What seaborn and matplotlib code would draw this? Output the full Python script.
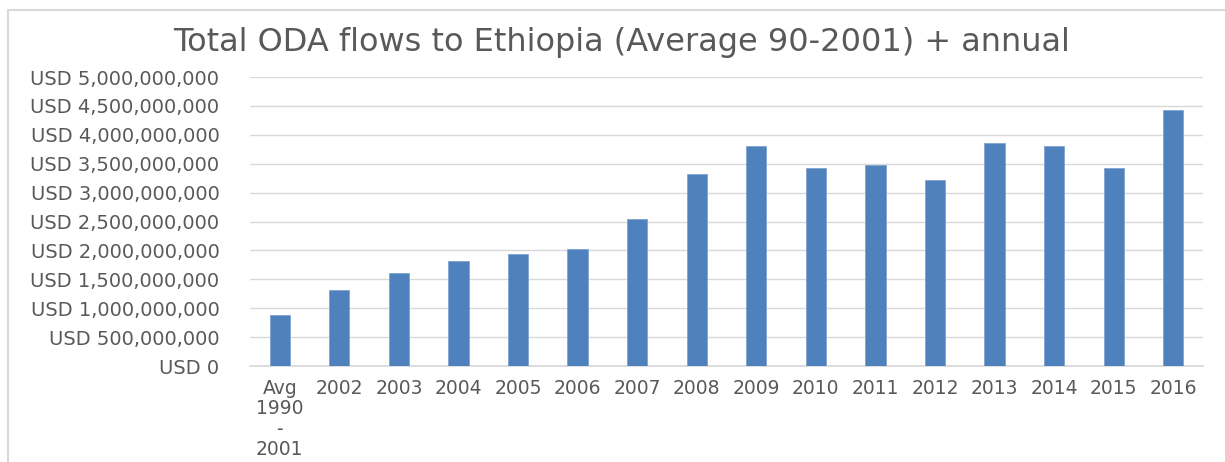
import matplotlib
matplotlib.use("Agg")
import matplotlib.pyplot as plt
import seaborn as sns
import pandas as pd
from matplotlib.ticker import FuncFormatter, MultipleLocator
from matplotlib.patches import Rectangle

categories = ["Avg\n1990\n-\n2001", "2002", "2003", "2004", "2005", "2006", "2007",
              "2008", "2009", "2010", "2011", "2012", "2013", "2014", "2015", "2016"]
oda_usd = [0.89e9, 1.31e9, 1.61e9, 1.82e9, 1.93e9, 2.03e9, 2.54e9, 3.32e9,
           3.81e9, 3.43e9, 3.48e9, 3.21e9, 3.86e9, 3.81e9, 3.43e9, 4.43e9]
title = "Total ODA flows to Ethiopia (Average 90-2001) + annual"

sns.set_theme(style="white")
plt.rcParams["font.family"] = ["DejaVu Sans"]

df = pd.DataFrame({"cat": categories, "val": oda_usd})

fig = plt.figure(figsize=(12.25, 4.62), dpi=100)
ax = fig.add_axes([250/1225, 1-366/462, (1203-250)/1225, (366-77)/462])

sns.barplot(data=df, x="cat", y="val", color="#4F81BD", saturation=1,
            width=0.34, ax=ax, zorder=3, edgecolor="#7FA3D1", linewidth=0.6)

ax.set_ylim(0, 5e9)
ax.yaxis.set_major_locator(MultipleLocator(5e8))
ax.yaxis.set_major_formatter(FuncFormatter(lambda v, p: f"USD {v:,.0f}"))
ax.grid(axis="y", color="#D9D9D9", linewidth=1, zorder=0)
ax.set_xlabel("")
ax.set_ylabel("")
for s in ["top", "right", "left"]:
    ax.spines[s].set_visible(False)
ax.spines["bottom"].set_color("#D9D9D9")
ax.tick_params(axis="x", length=0, labelcolor="#595959", labelsize=13.5, pad=9)
ax.tick_params(axis="y", length=0, labelcolor="#595959", labelsize=14, pad=22)
for lbl in ax.get_xticklabels():
    lbl.set_linespacing(1.1)
ax.set_xlim(-0.5, len(categories) - 0.5)

fig.text(622/1225, 1-42/462, title, ha="center", va="center",
         fontsize=23, color="#595959")

fig.patches.append(Rectangle((8/1225, -0.05), 1.1, 1 - 10/462 + 0.05,
                             transform=fig.transFigure, fill=False,
                             edgecolor="#D9D9D9", linewidth=1.5))

fig.savefig("out.png", dpi=100)
